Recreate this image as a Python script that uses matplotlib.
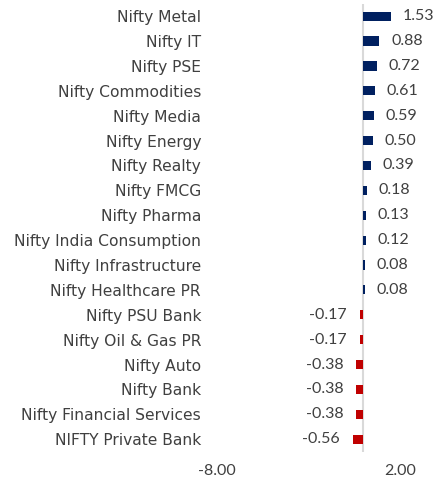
import matplotlib.pyplot as plt

# Sector index changes (%), top to bottom as shown
sectors = ["Nifty Metal", "Nifty IT", "Nifty PSE", "Nifty Commodities",
           "Nifty Media", "Nifty Energy", "Nifty Realty", "Nifty FMCG",
           "Nifty Pharma", "Nifty India Consumption", "Nifty Infrastructure",
           "Nifty Healthcare PR", "Nifty PSU Bank", "Nifty Oil & Gas PR",
           "Nifty Auto", "Nifty Bank", "Nifty Financial Services",
           "NIFTY Private Bank"]
changes = [1.53, 0.88, 0.72, 0.61, 0.59, 0.50, 0.39, 0.18, 0.13,
           0.12, 0.08, 0.08, -0.17, -0.17, -0.38, -0.38, -0.38, -0.56]
x_ticks = [-8, 2]
x_tick_labels = ["-8.00", "2.00"]


def main():
    fig = plt.figure(figsize=(4.38, 4.79), dpi=100)
    ax = fig.add_axes([0.4954, 0.0572, 0.4178, 0.935])

    n = len(sectors)
    ypos = list(range(n - 1, -1, -1))
    colors = ["#002060" if v >= 0 else "#C00000" for v in changes]
    ax.barh(ypos, changes, height=0.37, color=colors)

    # value labels beside each bar
    for y, v in zip(ypos, changes):
        if v >= 0:
            ax.annotate(f"{v:.2f}", (v, y), xytext=(8.5, 0),
                        textcoords="offset points", ha="left", va="center",
                        fontsize=11.5, color="#404040", family="Lato")
        else:
            ax.annotate(f"{v:.2f}", (v, y), xytext=(-9.5, 0),
                        textcoords="offset points", ha="right", va="center",
                        fontsize=11.5, color="#404040", family="Lato")

    ax.axvline(0, color="#D9D9D9", linewidth=1.5, zorder=0)

    ax.set_xlim(-8, 2)
    ax.set_ylim(-0.5, n - 0.5)
    ax.set_xticks(x_ticks, x_tick_labels)
    ax.set_yticks(ypos, sectors)
    ax.tick_params(axis="x", length=0, pad=9, labelsize=11.5,
                   labelcolor="#404040")
    ax.tick_params(axis="y", length=0, pad=11.5, labelsize=11.2,
                   labelcolor="#404040")
    for lab in ax.get_xticklabels():
        lab.set_family("Lato")
    for side in ["top", "right", "bottom", "left"]:
        ax.spines[side].set_visible(False)

    fig.savefig("out.png", dpi=100)


main()
